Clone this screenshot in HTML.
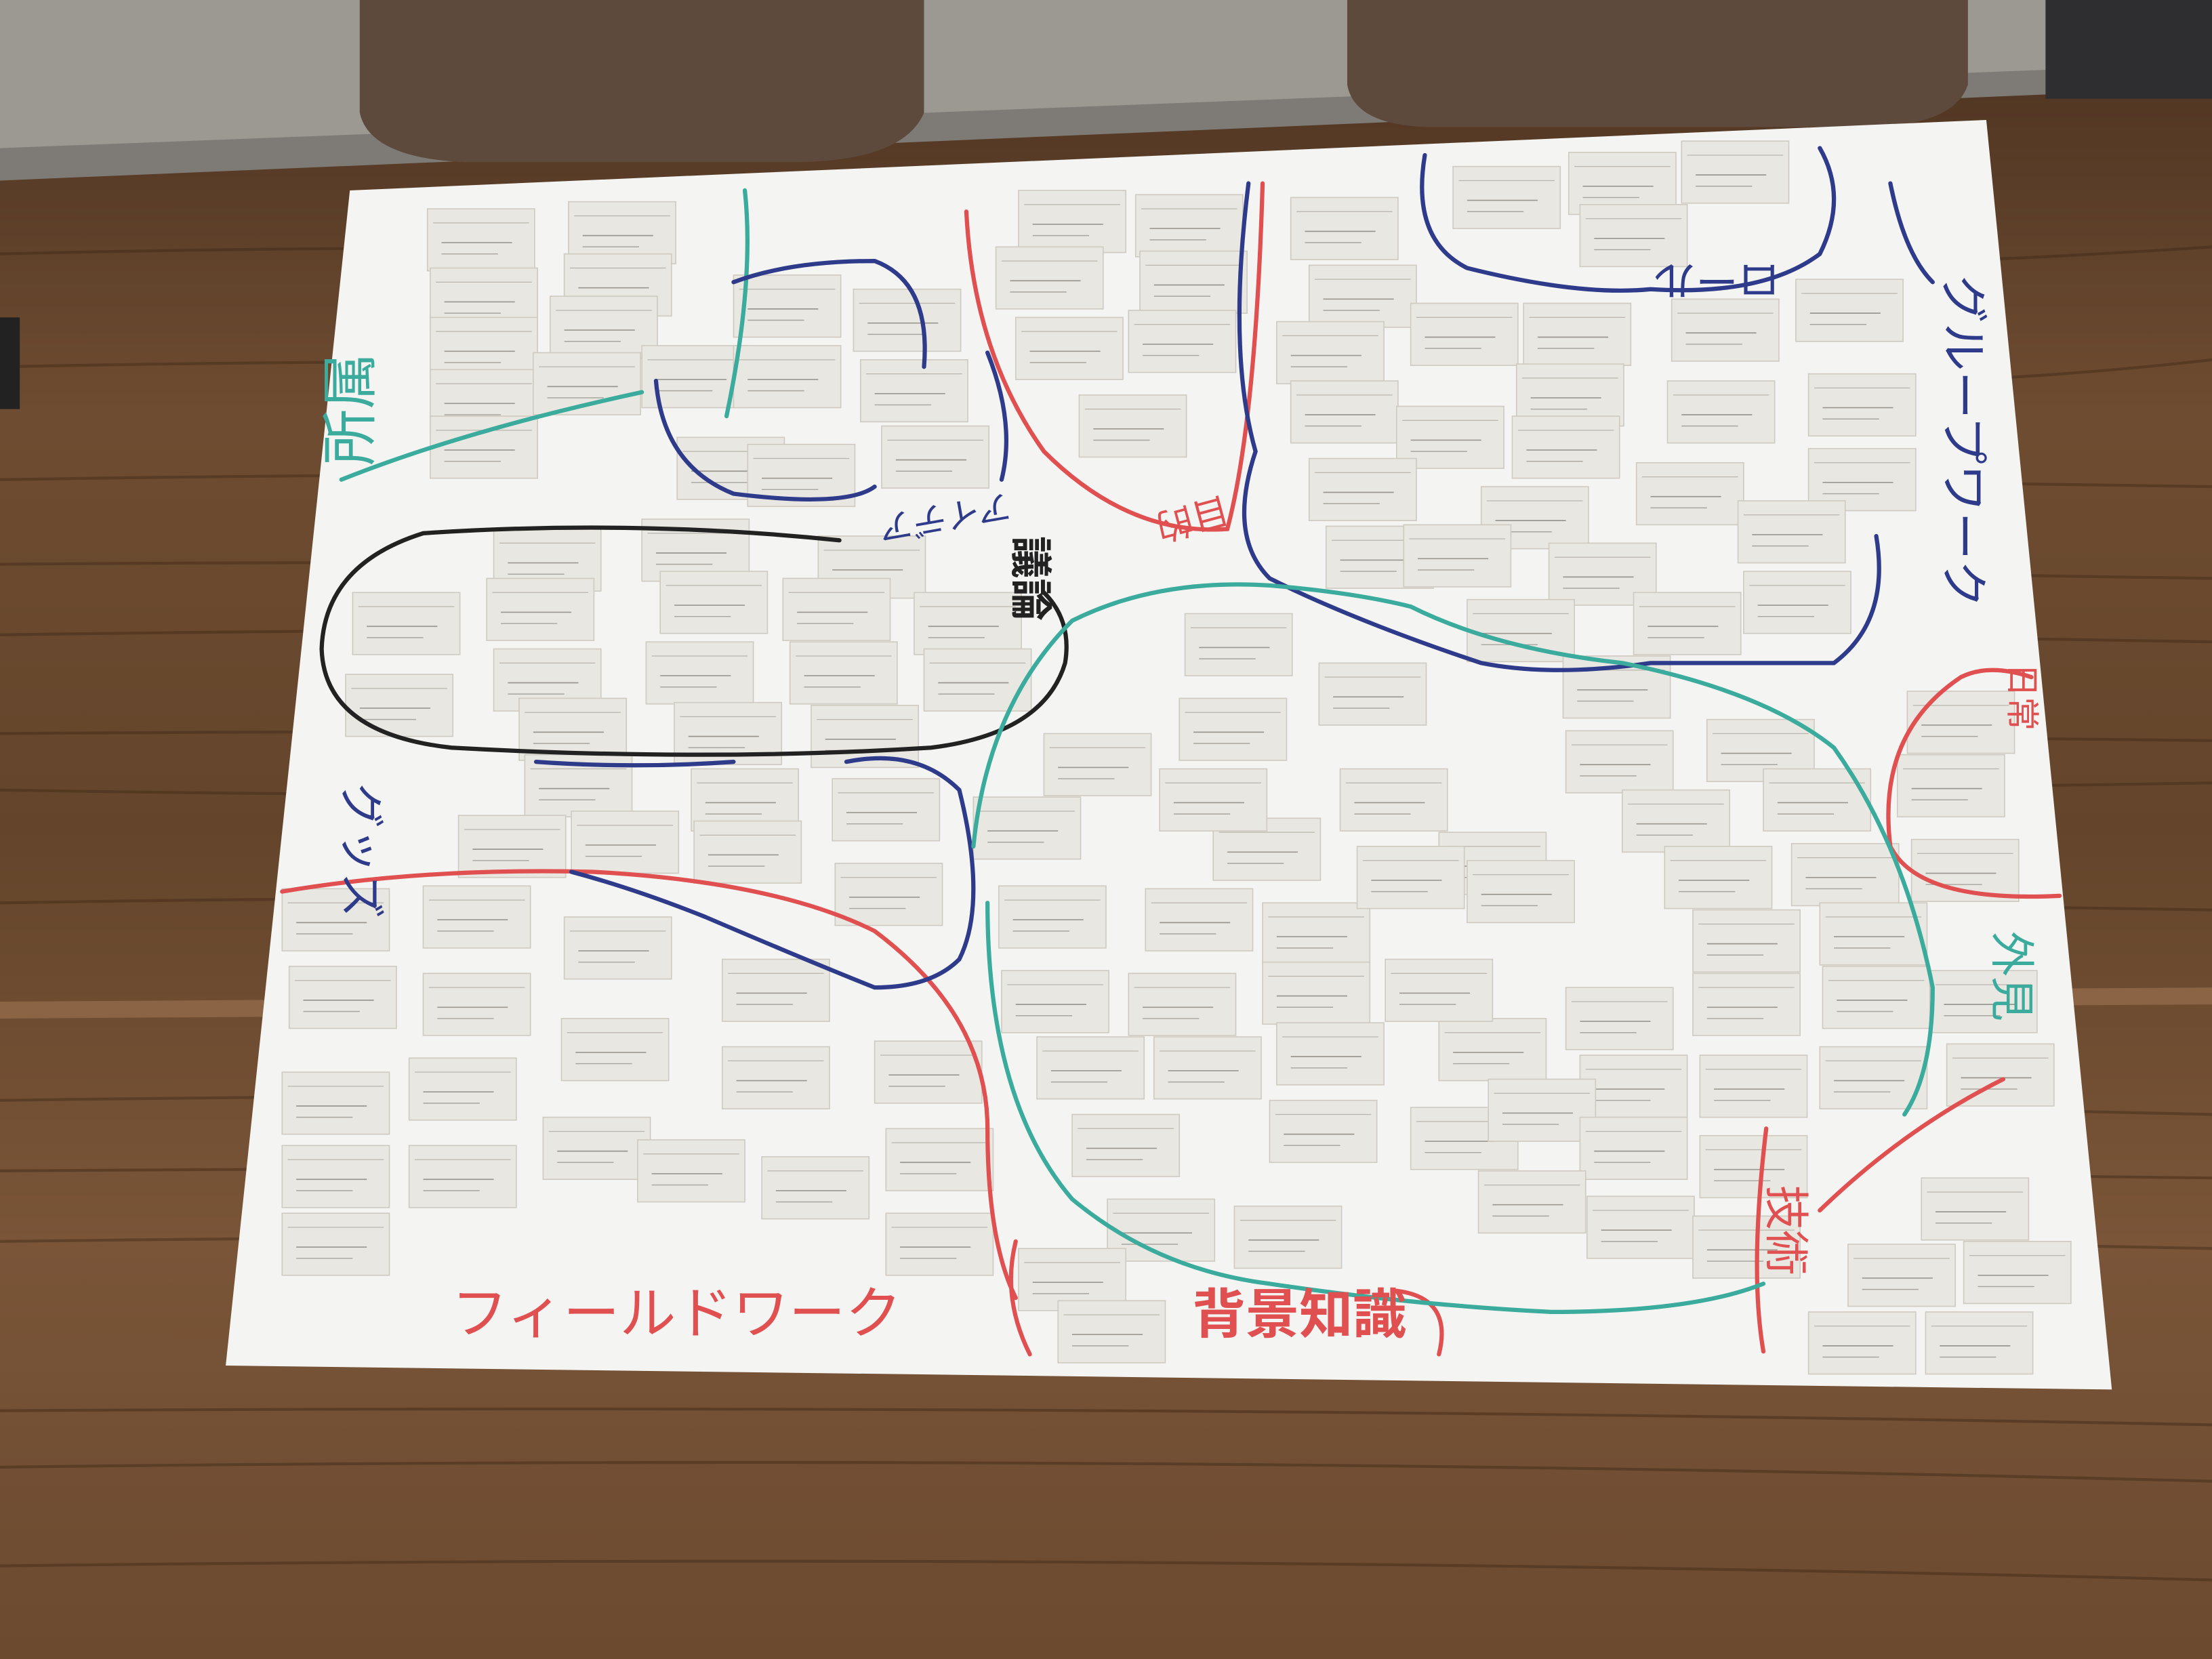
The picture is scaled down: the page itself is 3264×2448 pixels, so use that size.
<!DOCTYPE html>
<html><head><meta charset="utf-8"><style>
html,body{margin:0;padding:0;background:#6a482d;}
svg{display:block}
.h{font-family:"Liberation Sans","Noto Sans CJK JP",sans-serif;font-weight:400}
</style></head><body>
<svg width="3264" height="2448" viewBox="0 0 1568 1176" xmlns="http://www.w3.org/2000/svg">
<defs>
<linearGradient id="wood" x1="0" y1="0" x2="0" y2="1">
<stop offset="0" stop-color="#4a3120"/><stop offset="0.25" stop-color="#6e4c31"/><stop offset="0.5" stop-color="#64452b"/><stop offset="0.75" stop-color="#7a5538"/><stop offset="1" stop-color="#6b4a30"/>
</linearGradient>
<g id="n"><rect width="76" height="44" fill="#e9e7e1" stroke="#cfcbc2" stroke-width="0.8"/><line x1="4" y1="10" x2="72" y2="10" stroke="#b9b5ad" stroke-width="0.6"/><line x1="10" y1="24" x2="60" y2="24" stroke="#9a9690" stroke-width="0.8"/><line x1="10" y1="32" x2="50" y2="32" stroke="#a8a49e" stroke-width="0.7"/></g>
</defs>
<rect width="1568" height="1176" fill="url(#wood)"/>
<g stroke="#3e2716" stroke-width="2" opacity="0.45" fill="none">
<path d="M0 180 Q400 170 800 185 T1568 175"/><path d="M0 260 Q500 250 900 268 T1568 255"/><path d="M0 340 Q600 330 1568 345"/><path d="M0 400 Q600 395 1568 410"/><path d="M0 450 Q700 440 1568 455"/><path d="M0 520 Q700 515 1568 525"/><path d="M0 560 Q600 570 1568 555"/><path d="M0 640 Q600 630 1568 645"/><path d="M0 780 Q700 770 1568 790"/><path d="M0 830 Q700 825 1568 835"/><path d="M0 880 Q800 870 1568 885"/><path d="M0 1000 Q800 995 1568 1010"/><path d="M0 1040 Q800 1030 1568 1050"/><path d="M0 1110 Q800 1100 1568 1120"/>
</g>
<path d="M0 710 L1568 700 L1568 712 L0 722Z" fill="#8a6444"/>
<path d="M0 0 H1568 V62 L0 128Z" fill="#7e7b76"/>
<path d="M0 0 H1568 V45 L0 105Z" fill="#9c9993"/>
<path d="M255 0 H655 V80 Q640 115 560 115 H330 Q262 112 255 80Z" fill="#5e4a3c"/>
<path d="M955 0 H1395 V60 Q1385 90 1320 90 H1010 Q960 88 955 60Z" fill="#5e4a3c"/>
<rect x="1450" y="0" width="118" height="70" fill="#2e2e30"/>
<rect x="0" y="225" width="14" height="65" fill="#222"/>
<polygon points="248,135 1408,85 1497,985 160,968" fill="#f4f4f2"/>
<g>
<use href="#n" x="303" y="148"/><use href="#n" x="403" y="143"/><use href="#n" x="305" y="190"/><use href="#n" x="400" y="180"/><use href="#n" x="305" y="225"/><use href="#n" x="390" y="210"/><use href="#n" x="305" y="262"/><use href="#n" x="378" y="250"/><use href="#n" x="305" y="295"/><use href="#n" x="455" y="245"/><use href="#n" x="520" y="195"/><use href="#n" x="520" y="245"/><use href="#n" x="605" y="205"/><use href="#n" x="610" y="255"/><use href="#n" x="480" y="310"/><use href="#n" x="530" y="315"/><use href="#n" x="625" y="302"/>
<use href="#n" x="722" y="135"/><use href="#n" x="805" y="138"/><use href="#n" x="706" y="175"/><use href="#n" x="808" y="178"/><use href="#n" x="720" y="225"/><use href="#n" x="800" y="220"/><use href="#n" x="765" y="280"/>
<use href="#n" x="915" y="140"/><use href="#n" x="928" y="188"/><use href="#n" x="1000" y="215"/><use href="#n" x="1080" y="215"/><use href="#n" x="905" y="228"/><use href="#n" x="915" y="270"/><use href="#n" x="990" y="288"/><use href="#n" x="1075" y="258"/><use href="#n" x="1030" y="118"/><use href="#n" x="1112" y="108"/><use href="#n" x="1192" y="100"/><use href="#n" x="1120" y="145"/><use href="#n" x="1185" y="212"/><use href="#n" x="1273" y="198"/><use href="#n" x="1182" y="270"/><use href="#n" x="1282" y="265"/><use href="#n" x="1072" y="295"/><use href="#n" x="1160" y="328"/><use href="#n" x="1282" y="318"/><use href="#n" x="1050" y="345"/><use href="#n" x="928" y="325"/><use href="#n" x="940" y="373"/><use href="#n" x="995" y="372"/><use href="#n" x="1098" y="385"/><use href="#n" x="1232" y="355"/><use href="#n" x="1236" y="405"/><use href="#n" x="1158" y="420"/><use href="#n" x="1040" y="425"/>
<use href="#n" x="840" y="435"/><use href="#n" x="935" y="470"/><use href="#n" x="836" y="495"/><use href="#n" x="1108" y="465"/><use href="#n" x="1210" y="510"/><use href="#n" x="1110" y="518"/><use href="#n" x="1352" y="490"/><use href="#n" x="1345" y="535"/><use href="#n" x="1250" y="545"/><use href="#n" x="1150" y="560"/><use href="#n" x="1020" y="590"/><use href="#n" x="950" y="545"/><use href="#n" x="860" y="580"/><use href="#n" x="740" y="520"/><use href="#n" x="822" y="545"/><use href="#n" x="690" y="565"/><use href="#n" x="708" y="628"/><use href="#n" x="812" y="630"/><use href="#n" x="895" y="640"/><use href="#n" x="962" y="600"/><use href="#n" x="1040" y="610"/><use href="#n" x="1180" y="600"/><use href="#n" x="1270" y="598"/><use href="#n" x="1355" y="595"/><use href="#n" x="1200" y="645"/><use href="#n" x="1290" y="640"/><use href="#n" x="1292" y="685"/><use href="#n" x="1368" y="688"/><use href="#n" x="1200" y="690"/><use href="#n" x="1110" y="700"/><use href="#n" x="1020" y="722"/><use href="#n" x="1120" y="748"/><use href="#n" x="1205" y="748"/><use href="#n" x="1290" y="742"/><use href="#n" x="1380" y="740"/><use href="#n" x="982" y="680"/><use href="#n" x="895" y="682"/><use href="#n" x="710" y="688"/><use href="#n" x="800" y="690"/><use href="#n" x="735" y="735"/><use href="#n" x="818" y="735"/><use href="#n" x="905" y="725"/><use href="#n" x="900" y="780"/><use href="#n" x="760" y="790"/><use href="#n" x="1000" y="785"/><use href="#n" x="1055" y="765"/><use href="#n" x="1120" y="792"/><use href="#n" x="1205" y="805"/><use href="#n" x="1048" y="830"/><use href="#n" x="1125" y="848"/><use href="#n" x="1200" y="862"/><use href="#n" x="875" y="855"/><use href="#n" x="785" y="850"/><use href="#n" x="722" y="885"/><use href="#n" x="750" y="922"/><use href="#n" x="1310" y="882"/><use href="#n" x="1392" y="880"/><use href="#n" x="1282" y="930"/><use href="#n" x="1365" y="930"/><use href="#n" x="1362" y="835"/>
<use href="#n" x="350" y="375"/><use href="#n" x="455" y="368"/><use href="#n" x="580" y="380"/><use href="#n" x="250" y="420"/><use href="#n" x="345" y="410"/><use href="#n" x="468" y="405"/><use href="#n" x="555" y="410"/><use href="#n" x="648" y="420"/><use href="#n" x="245" y="478"/><use href="#n" x="350" y="460"/><use href="#n" x="458" y="455"/><use href="#n" x="560" y="455"/><use href="#n" x="655" y="460"/><use href="#n" x="368" y="495"/><use href="#n" x="478" y="498"/><use href="#n" x="575" y="500"/><use href="#n" x="372" y="535"/><use href="#n" x="490" y="545"/><use href="#n" x="590" y="552"/><use href="#n" x="325" y="578"/><use href="#n" x="405" y="575"/><use href="#n" x="492" y="582"/><use href="#n" x="592" y="612"/><use href="#n" x="200" y="630"/><use href="#n" x="300" y="628"/><use href="#n" x="400" y="650"/><use href="#n" x="512" y="680"/><use href="#n" x="205" y="685"/><use href="#n" x="300" y="690"/><use href="#n" x="398" y="722"/><use href="#n" x="512" y="742"/><use href="#n" x="620" y="738"/><use href="#n" x="200" y="760"/><use href="#n" x="290" y="750"/><use href="#n" x="385" y="792"/><use href="#n" x="452" y="808"/><use href="#n" x="540" y="820"/><use href="#n" x="628" y="800"/><use href="#n" x="200" y="812"/><use href="#n" x="290" y="812"/><use href="#n" x="200" y="860"/><use href="#n" x="628" y="860"/>
</g>
<g fill="none" stroke-width="3" stroke-linecap="round">
<path d="M242 340 Q330 305 455 278 M528 135 Q535 200 515 295" stroke="#3aab9c"/>
<path d="M520 200 Q560 185 620 185 Q660 200 655 260 M465 270 Q470 330 520 350 Q600 360 620 345 M700 250 Q720 300 710 340" stroke="#2e3a8a"/>
<path d="M595 383 Q450 368 300 378 Q230 400 228 460 Q230 520 320 530 Q500 540 660 530 Q740 520 755 470 Q760 440 740 420" stroke="#222"/>
<path d="M200 632 Q300 615 420 618 Q550 625 620 660 Q700 720 700 800 Q700 880 720 920 M685 150 Q690 250 740 320 Q800 380 870 375 Q890 300 895 130 M720 880 Q710 920 730 960 M1020 960 Q1030 920 990 915 M1290 858 Q1350 800 1420 765 M1252 800 Q1240 900 1250 958 M1440 480 Q1410 470 1390 480 Q1330 520 1340 600 Q1360 640 1460 635" stroke="#e05050"/>
<path d="M885 130 Q870 250 890 320 Q870 380 900 410 Q960 440 1050 470 Q1100 480 1170 470 Q1260 470 1300 470 Q1340 440 1330 380 M1010 110 Q1000 170 1040 190 Q1120 210 1170 205 Q1250 210 1290 180 Q1310 140 1290 105 M1340 130 Q1350 180 1370 200 M405 618 Q450 630 500 650 Q570 680 620 700 Q660 700 680 680 Q700 640 680 560 Q650 530 600 540 M380 540 Q450 545 520 540" stroke="#2e3a8a"/>
<path d="M690 600 Q700 500 760 440 Q820 410 900 415 Q960 420 1000 430 Q1060 460 1150 470 Q1250 490 1300 530 Q1350 600 1370 700 Q1370 760 1350 790 M700 640 Q700 780 760 850 Q820 900 900 910 Q1000 925 1100 930 Q1200 930 1250 910" stroke="#3aab9c"/>
</g>
<g class="h">
<text x="0" y="0" transform="translate(262,330) rotate(-90)" font-size="40" fill="#3aab9c">所属</text>
<text x="320" y="945" font-size="40" fill="#e05050">フィールドワーク</text>
<text x="845" y="945" font-size="38" fill="#e05050" font-weight="700">背景知識</text>
<text x="0" y="0" transform="translate(1380,195) rotate(90)" font-size="34" fill="#2e3a8a">グループワーク</text>
<text x="0" y="0" transform="translate(1262,188) rotate(180)" font-size="30" fill="#2e3a8a">ロール</text>
<text x="0" y="0" transform="translate(868,352) rotate(165)" font-size="26" fill="#e05050">目的</text>
<text x="0" y="0" transform="translate(715,350) rotate(170)" font-size="24" fill="#2e3a8a">アイデア</text>
<text x="0" y="0" transform="translate(720,380) rotate(90)" font-size="30" fill="#222" font-weight="700">議論</text>
<text x="0" y="0" transform="translate(245,555) rotate(90)" font-size="32" fill="#2e3a8a">グッズ</text>
<text x="0" y="0" transform="translate(1415,660) rotate(90)" font-size="32" fill="#3aab9c">外見</text>
<text x="0" y="0" transform="translate(1255,840) rotate(90)" font-size="32" fill="#e05050">技術</text>
<text x="0" y="0" transform="translate(1425,470) rotate(90)" font-size="24" fill="#e05050">日常</text>
</g>
</svg>
</body></html>
